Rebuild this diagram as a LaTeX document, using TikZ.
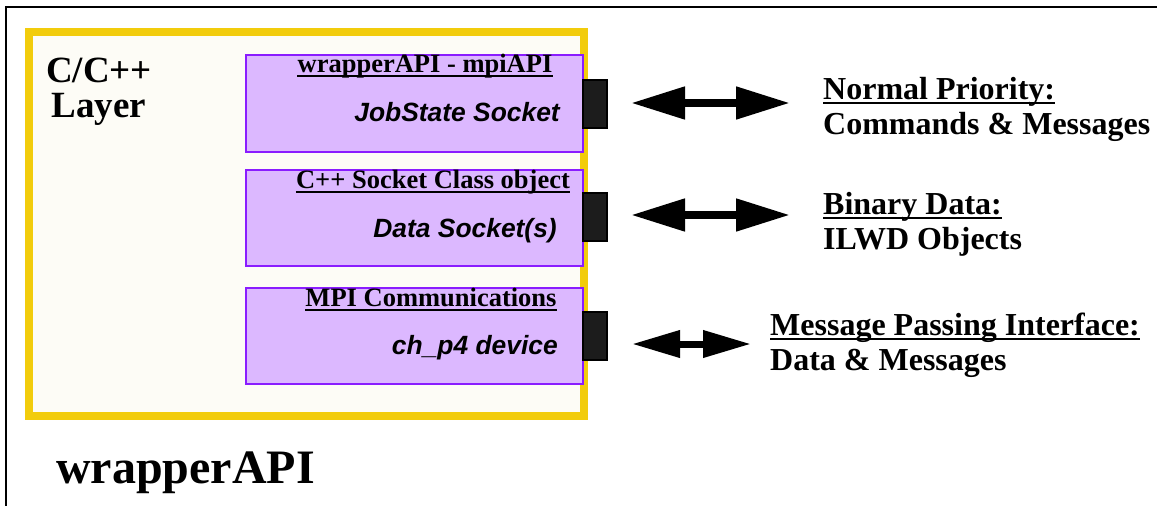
\documentclass[tikz,border=0pt]{standalone}
\usepackage{fontspec}
\setmainfont{Liberation Serif}
\newfontfamily\hv{Liberation Sans}
\usetikzlibrary{arrows.meta}
\definecolor{yframe}{RGB}{242,204,12}
\definecolor{cream}{RGB}{253,252,246}
\definecolor{pfill}{RGB}{220,184,255}
\definecolor{pline}{RGB}{138,28,255}
\definecolor{tabc}{RGB}{28,28,28}
\tikzset{
  pbox/.style={draw=pline,fill=pfill,line width=2pt},
  tabbox/.style={draw=black,fill=tabc,line width=2pt},
  ttl/.style={inner sep=0pt,anchor=base,font=\fontsize{26.5}{28}\selectfont\bfseries},
  sock/.style={inner sep=0pt,anchor=base east,font=\fontsize{26.4}{28}\hv\bfseries\itshape},
  lab/.style={inner sep=0pt,anchor=base west,font=\fontsize{32}{34}\selectfont\bfseries},
  ulin/.style={line width=2pt},
  dbl/.style={line width=8pt,{Triangle[length=54pt,width=31pt]}-{Triangle[length=54pt,width=31pt]}},
  dbls/.style={line width=7pt,{Triangle[length=48pt,width=26pt]}-{Triangle[length=48pt,width=26pt]}}
}
\begin{document}
\begin{tikzpicture}[x=1pt,y=-1pt]
\useasboundingbox (0,0) rectangle (1157,506);
% outer frame (cut at right and bottom)
\draw[line width=2.5pt] (6,506) -- (6,7) -- (1157,7);
% yellow layer
\draw[draw=yframe,fill=cream,line width=8pt] (29,32) rectangle (584,416);
\node[inner sep=0pt,align=center,font=\fontsize{37}{35}\selectfont\bfseries] (layer) at (99,92) {C/C++\\Layer};
% purple boxes
\draw[pbox] (246,55) rectangle (583,152);
\draw[pbox] (246,170) rectangle (583,266);
\draw[pbox] (246,288) rectangle (583,384);
% tabs
\node[tabbox,minimum width=24pt,minimum height=48pt,inner sep=0pt] (tab1) at (595,104) {};
\node[tabbox,minimum width=24pt,minimum height=48pt,inner sep=0pt] (tab2) at (595,217) {};
\node[tabbox,minimum width=24pt,minimum height=48pt,inner sep=0pt] (tab3) at (595,336) {};
% titles
\node[ttl] (t1) at (425,72) {wrapperAPI - mpiAPI};
\node[ttl] (t2) at (433,188) {C++ Socket Class object};
\node[ttl] (t3) at (431,306) {MPI Communications};
\foreach \n in {t1,t2,t3}{\draw[ulin] ([yshift=-3.5pt]\n.base west) -- ([yshift=-3.5pt]\n.base east);}
% socket names
\node[sock] (s1) at (560,121) {JobState Socket};
\node[sock] (s2) at (557,237) {Data Socket(s)};
\node[sock] (s3) at (558,354) {ch\_p4 device};
% right labels
\node[lab] (l1h) at (823,99) {Normal Priority:};
\node[lab] (l1b) at (823,134) {Commands \& Messages};
\node[lab] (l2h) at (823,214) {Binary Data:};
\node[lab] (l2b) at (823,249) {ILWD Objects};
\node[lab] (l3h) at (770,335) {Message Passing Interface:};
\node[lab] (l3b) at (770,370) {Data \& Messages};
\foreach \n in {l1h,l2h,l3h}{\draw[ulin] ([yshift=-4pt]\n.base west) -- ([yshift=-4pt]\n.base east);}
% arrows
\coordinate (a1l) at (631,103); \coordinate (a1r) at (790,103);
\coordinate (a2l) at (631,215); \coordinate (a2r) at (790,215);
\coordinate (a3l) at (632,344); \coordinate (a3r) at (751,344);
\draw[dbl] (a1l) -- (a1r);
\draw[dbl] (a2l) -- (a2r);
\draw[dbls] (a3l) -- (a3r);
% title
\node[inner sep=0pt,anchor=base west,font=\fontsize{48}{50}\selectfont\bfseries] (wapi) at (56,483) {wrapperAPI};
\end{tikzpicture}
\end{document}
